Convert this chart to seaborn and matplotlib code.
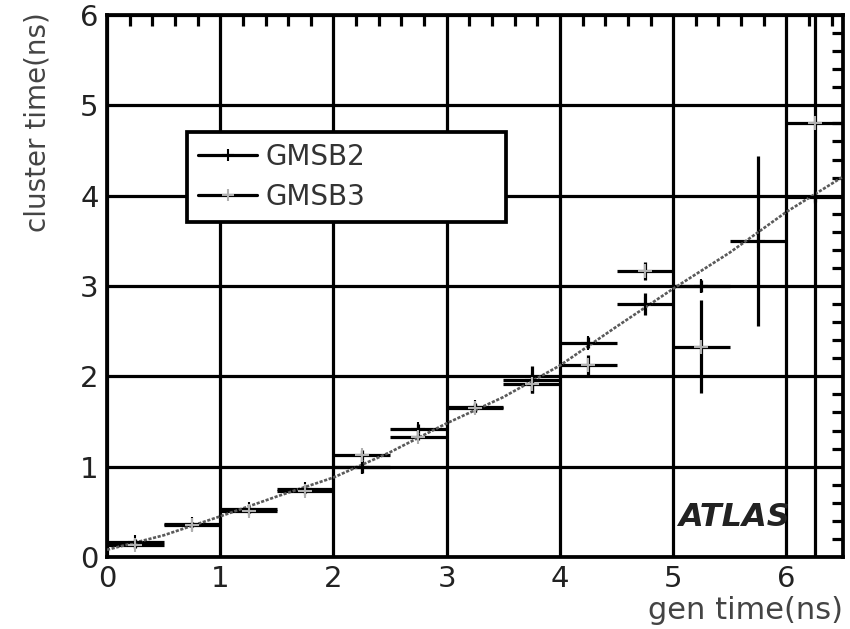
import numpy as np
import pandas as pd
import matplotlib
matplotlib.use("Agg")
import matplotlib.pyplot as plt
from matplotlib.lines import Line2D
from matplotlib.ticker import MultipleLocator
import seaborn as sns

# ---- data ----
bin_centers = [0.25, 0.75, 1.25, 1.75, 2.25, 2.75, 3.25, 3.75, 4.25, 4.75, 5.25, 5.75, 6.25]
bin_halfwidth = 0.25

gmsb2_y = [0.17, 0.37, 0.53, 0.75, 1.00, 1.42, 1.66, 1.96, 2.37, 2.80, 3.00, 3.50, 3.98]
gmsb2_err = [0.03, 0.02, 0.02, 0.02, 0.07, 0.05, 0.05, 0.15, 0.06, 0.12, 0.07, 0.94, 0.05]

gmsb3_y = [0.13, 0.35, 0.51, 0.73, 1.13, 1.33, 1.65, 1.92, 2.12, 3.17, 2.33, np.nan, 4.80]
gmsb3_err = [0.03, 0.02, 0.02, 0.02, 0.06, 0.04, 0.04, 0.10, 0.12, 0.10, 0.52, np.nan, 5.50]

fit_x = [0.0, 0.5, 1.0, 1.5, 2.0, 2.5, 3.0, 3.5, 4.0, 4.5, 5.0, 5.5, 6.0, 6.5]
fit_y = [0.08, 0.24, 0.45, 0.67, 0.88, 1.16, 1.48, 1.77, 2.12, 2.55, 2.97, 3.37, 3.82, 4.21]

series_names = ["GMSB2", "GMSB3"]
x_label = "gen time(ns)"
y_label = "cluster time(ns)"
x_ticks = [0, 1, 2, 3, 4, 5, 6]
y_ticks = [0, 1, 2, 3, 4, 5, 6]

# ---- style ----
sns.set_theme(style="white")
plt.rcParams["font.family"] = ["DejaVu Sans"]

fig = plt.figure(figsize=(8.5, 6.29), dpi=100)
ax = fig.add_axes([107 / 850, 1 - 557 / 629, 736 / 850, 542 / 629])

LW = 2.3
fit_df = pd.DataFrame({"x": fit_x, "y": fit_y})
sns.lineplot(data=fit_df, x="x", y="y", ax=ax, color="#5a5a5a", lw=1.9,
             linestyle=(0, (1.2, 0.6)), zorder=4)

df2 = pd.DataFrame({"x": bin_centers, "y": gmsb2_y, "err": gmsb2_err})
df3 = pd.DataFrame({"x": bin_centers, "y": gmsb3_y, "err": gmsb3_err})

for df, mcol in [(df2, "black"), (df3, "#b0b0b0")]:
    ax.errorbar(df["x"], df["y"], xerr=bin_halfwidth, yerr=df["err"], fmt="none",
                ecolor="black", elinewidth=LW, capsize=0, zorder=3)
    sns.scatterplot(data=df, x="x", y="y", ax=ax, marker="+", s=90,
                    color=mcol, linewidth=1.5, zorder=5, legend=False)

ax.set_xlim(0, 6.5)
ax.set_ylim(0, 6)
ax.set_xticks(x_ticks)
ax.set_yticks(y_ticks)
ax.xaxis.set_minor_locator(MultipleLocator(0.2))
ax.yaxis.set_minor_locator(MultipleLocator(0.2))
ax.grid(True, which="major", color="black", linewidth=LW)
ax.set_axisbelow(True)
ax.tick_params(which="both", direction="in", top=True, right=True, colors="black")
ax.tick_params(which="major", length=0, labelsize=21, pad=6, labelcolor="#222222")
ax.tick_params(which="minor", length=8, width=LW)
for sp in ax.spines.values():
    sp.set_color("black")
    sp.set_linewidth(2.7)

ax.set_xlabel(x_label, fontsize=22, color="#444444", loc="right")
ax.xaxis.set_label_coords(1.0, -0.072)
ax.set_ylabel(y_label, fontsize=20, color="#444444", loc="top")
ax.yaxis.set_label_coords(-0.075, 1.005)

ax.text(0.852, 0.072, "ATLAS", transform=ax.transAxes, fontsize=23,
        fontweight="bold", fontstyle="italic", color="#222222",
        ha="center", va="center")

handles = [
    Line2D([], [], color="black", lw=LW, marker="+", markersize=8,
           markeredgecolor="black", markeredgewidth=1.5),
    Line2D([], [], color="black", lw=LW, marker="+", markersize=8,
           markeredgecolor="#b0b0b0", markeredgewidth=1.5),
]
leg = ax.legend(handles, series_names, loc="upper left",
                bbox_to_anchor=(0.109, 0.603, 0.433, 0.181), mode="expand",
                fontsize=20, frameon=True, fancybox=False, framealpha=1,
                edgecolor="black", borderpad=0.4, handlelength=2.1,
                handletextpad=0.3, labelspacing=0.42, borderaxespad=0)
leg.get_frame().set_linewidth(2.7)
for t in leg.get_texts():
    t.set_color("#333333")

fig.savefig("out.png", dpi=100)
